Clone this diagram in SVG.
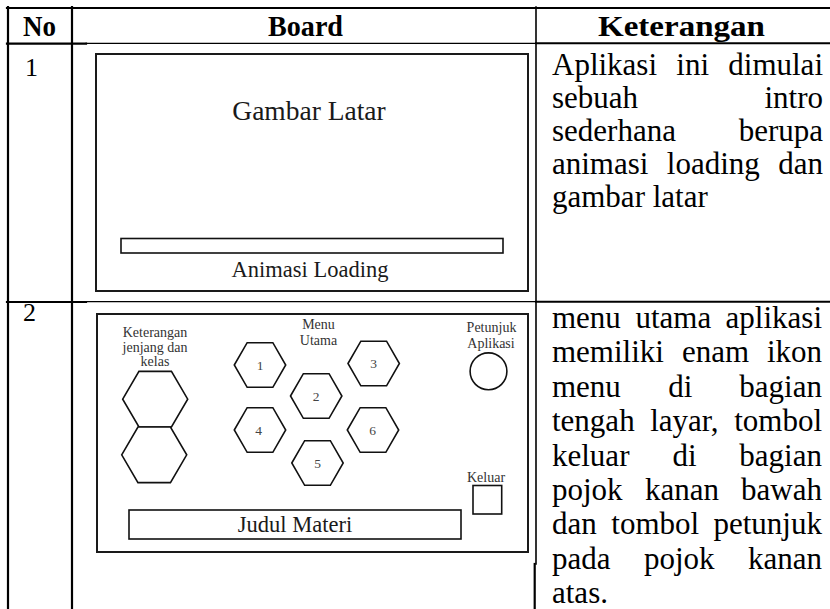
<svg xmlns="http://www.w3.org/2000/svg" width="830" height="609" viewBox="0 0 830 609">
  <style>
    .grid { stroke: #000; fill: none; stroke-linecap: square; }
    .head { font-family: "Liberation Serif", "Times New Roman", serif; font-weight: bold; font-size: 29px; fill: #000; }
    .num { font-family: "Liberation Serif", "Times New Roman", serif; font-size: 26px; fill: #000; }
    .body { font-family: "Liberation Serif", "Times New Roman", serif; font-size: 31px; fill: #000; }
    .board { fill: #fff; stroke: #1a1a1a; stroke-width: 2; }
    .shape { fill: #fff; stroke: #111; stroke-width: 1.6; }
    .big { font-family: "Liberation Serif", "Times New Roman", serif; fill: #1a1a1a; text-anchor: middle; }
    .small { font-family: "Liberation Serif", "Times New Roman", serif; font-size: 14px; fill: #333; text-anchor: middle; }
    .hexnum { font-family: "Liberation Serif", "Times New Roman", serif; font-size: 13.5px; fill: #444; text-anchor: middle; }
    .e { text-anchor: end; }
    .m { text-anchor: middle; }
  </style>
  <defs>
    <!-- flat-topped hexagons centred on the origin -->
    <polygon id="hexS" points="-25.7,0 -12.85,-22.3 12.85,-22.3 25.7,0 12.85,22.3 -12.85,22.3"/>
    <polygon id="hexL" points="-32.5,0 -16.25,-27.8 16.25,-27.8 32.5,0 16.25,27.8 -16.25,27.8"/>
  </defs>

  <rect x="0" y="0" width="830" height="609" fill="#fff"/>

  <!-- table rules -->
  <g id="table">
    <line class="grid" x1="7" y1="8" x2="830" y2="8" stroke-width="2.2"/>
    <line class="grid" x1="8" y1="7" x2="8" y2="609" stroke-width="2.2"/>
    <line class="grid" x1="72" y1="7" x2="72" y2="609" stroke-width="2.2"/>
    <line class="grid" x1="536" y1="7" x2="536" y2="564" stroke-width="1.6"/>
    <line class="grid" x1="534.7" y1="564" x2="534.7" y2="609" stroke-width="2.2"/>
    <line class="grid" x1="7" y1="43.6" x2="86" y2="43.6" stroke-width="2.2"/>
    <line class="grid" x1="86" y1="43.3" x2="536" y2="43.3" stroke-width="1.2"/>
    <line class="grid" x1="536" y1="43.3" x2="830" y2="43.3" stroke-width="2"/>
    <line class="grid" x1="7" y1="302" x2="86" y2="302" stroke-width="2.2"/>
    <line class="grid" x1="86" y1="301.6" x2="536" y2="301.6" stroke-width="1.2"/>
    <line class="grid" x1="536" y1="301.7" x2="830" y2="301.7" stroke-width="2"/>
  </g>

  <!-- header row -->
  <g id="header">
    <text class="head" x="23" y="36" textLength="33" lengthAdjust="spacingAndGlyphs">No</text>
    <text class="head" x="268" y="36" textLength="75" lengthAdjust="spacingAndGlyphs">Board</text>
    <text class="head" x="598" y="35.5" textLength="167" lengthAdjust="spacingAndGlyphs">Keterangan</text>
  </g>

  <!-- row 1: loading screen -->
  <g id="row1">
    <text class="num" x="25" y="76">1</text>
    <g id="board1">
      <rect class="board" x="96" y="54" width="432" height="237"/>
      <text class="big" x="309" y="120" font-size="27.5">Gambar Latar</text>
      <rect class="shape" x="121" y="238.5" width="382" height="14.5"/>
      <text class="big" x="310" y="277" font-size="22.5">Animasi Loading</text>
    </g>
    <!-- justified description: first word left, last word right, middle word between -->
    <g id="desc1" class="body">
      <text x="552" y="75">Aplikasi</text>
      <text class="m" x="692.7" y="75">ini</text>
      <text class="e" x="823" y="75">dimulai</text>
      <text x="552" y="108">sebuah</text>
      <text class="e" x="823" y="108">intro</text>
      <text x="552" y="141">sederhana</text>
      <text class="e" x="823" y="141">berupa</text>
      <text x="552" y="174">animasi</text>
      <text class="m" x="713.3" y="174">loading</text>
      <text class="e" x="823" y="174">dan</text>
      <text x="552" y="207">gambar latar</text>
    </g>
  </g>

  <!-- row 2: main menu -->
  <g id="row2">
    <text class="num" x="23" y="321">2</text>
    <g id="board2">
      <rect class="board" x="97" y="314" width="431" height="238"/>

      <g id="level-info">
        <text class="small" x="155" y="337">Keterangan</text>
        <text class="small" x="155" y="351.5">jenjang dan</text>
        <text class="small" x="155" y="366">kelas</text>
        <use href="#hexL" class="shape" x="155.2" y="399.2"/>
        <use href="#hexL" class="shape" x="154.2" y="454.8"/>
      </g>

      <g id="main-menu">
        <text class="small" x="318.5" y="329">Menu</text>
        <text class="small" x="318.5" y="345">Utama</text>
        <g id="menu-1"><use href="#hexS" class="shape" x="260" y="365"/><text class="hexnum" x="260" y="369.5">1</text></g>
        <g id="menu-2"><use href="#hexS" class="shape" x="316.2" y="396"/><text class="hexnum" x="316.2" y="400.5">2</text></g>
        <g id="menu-3"><use href="#hexS" class="shape" x="373.7" y="363.5"/><text class="hexnum" x="373.7" y="368">3</text></g>
        <g id="menu-4"><use href="#hexS" class="shape" x="260" y="430"/><text class="hexnum" x="258.5" y="434.5">4</text></g>
        <g id="menu-5"><use href="#hexS" class="shape" x="317.5" y="463"/><text class="hexnum" x="317.5" y="467.5">5</text></g>
        <g id="menu-6"><use href="#hexS" class="shape" x="373" y="430"/><text class="hexnum" x="372.5" y="434.5">6</text></g>
      </g>

      <g id="help">
        <text class="small" x="491.5" y="332">Petunjuk</text>
        <text class="small" x="491" y="348">Aplikasi</text>
        <circle class="shape" cx="488.5" cy="371.3" r="18.4" stroke-width="1.8"/>
      </g>

      <g id="exit">
        <text class="small" x="486" y="481.5">Keluar</text>
        <rect class="shape" x="473" y="485.5" width="28.7" height="28.5"/>
      </g>

      <g id="title-bar">
        <rect class="shape" x="129" y="510" width="332" height="29"/>
        <text class="big" x="295" y="532" font-size="22.5">Judul Materi</text>
      </g>
    </g>
    <g id="desc2" class="body">
      <text x="552" y="328">menu</text>
      <text class="m" x="673.3" y="328">utama</text>
      <text class="e" x="822" y="328">aplikasi</text>
      <text x="552" y="362.4">memiliki</text>
      <text class="m" x="715.5" y="362.4">enam</text>
      <text class="e" x="822" y="362.4">ikon</text>
      <text x="552" y="396.8">menu</text>
      <text class="m" x="680.2" y="396.8">di</text>
      <text class="e" x="822" y="396.8">bagian</text>
      <text x="552" y="431.2">tengah</text>
      <text class="m" x="684.4" y="431.2">layar,</text>
      <text class="e" x="822" y="431.2">tombol</text>
      <text x="552" y="465.6">keluar</text>
      <text class="m" x="684.5" y="465.6">di</text>
      <text class="e" x="822" y="465.6">bagian</text>
      <text x="552" y="500">pojok</text>
      <text class="m" x="681.9" y="500">kanan</text>
      <text class="e" x="822" y="500">bawah</text>
      <text x="552" y="534.4">dan</text>
      <text class="m" x="655.2" y="534.4">tombol</text>
      <text class="e" x="822" y="534.4">petunjuk</text>
      <text x="552" y="568.8">pada</text>
      <text class="m" x="679.3" y="568.8">pojok</text>
      <text class="e" x="822" y="568.8">kanan</text>
      <text x="552" y="603.2">atas.</text>
    </g>
  </g>
</svg>
